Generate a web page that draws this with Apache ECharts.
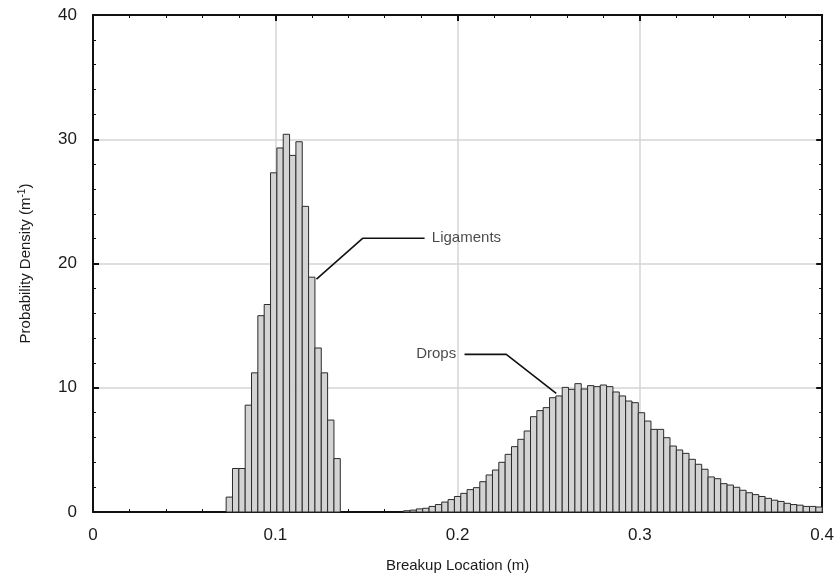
<!DOCTYPE html>
<html>
<head>
<meta charset="utf-8">
<script src="https://cdn.jsdelivr.net/npm/echarts@6/dist/echarts.min.js"></script>
<style>html,body{margin:0;padding:0;background:#fff}#c{width:837px;height:585px}</style>
</head>
<body>
<div id="c"></div>
<script>
// Histogram bins: 115 equal bins between 0 and 0.4 m
const binWidth = 0.4 / 115;
const ligamentFirstBin = 21;
const ligamentValues = [1.2, 3.5, 3.5, 8.6, 11.2, 15.8, 16.7, 27.3, 29.3, 30.4, 28.7, 29.8, 24.6, 18.9, 13.2, 11.2, 7.4, 4.3];
const dropsFirstBin = 49;
const dropsValues = [
  0.1, 0.15, 0.25, 0.3, 0.45, 0.6, 0.8, 1.0, 1.25, 1.5,
  1.8, 1.96, 2.44, 2.98, 3.38, 4.0, 4.64, 5.26, 5.85, 6.52,
  7.67, 8.16, 8.4, 9.2, 9.34, 10.03, 9.87, 10.33, 9.9, 10.17,
  10.09, 10.22, 10.09, 9.66, 9.34, 8.93, 8.8, 7.99, 7.32, 6.65,
  6.65, 5.98, 5.31, 4.99, 4.72, 4.24, 3.84, 3.44, 2.82, 2.68,
  2.28, 2.17, 1.99,
  1.75, 1.55, 1.4, 1.25, 1.1, 0.95, 0.85, 0.7, 0.6, 0.55, 0.45, 0.45, 0.4
];
const xTicks = [0, 0.1, 0.2, 0.3, 0.4];
const yTicks = [0, 10, 20, 30, 40];
// annotation leaders (data coordinates)
const ligamentLeader = [[0.1226, 18.75], [0.1479, 22.03], [0.1819, 22.03]];
const ligamentLabelAt = [0.1856, 22.03];
const dropsLeader = [[0.2038, 12.69], [0.2267, 12.69], [0.2541, 9.55]];
const dropsLabelAt = [0.1995, 12.69];

function binsToData(first, vals) {
  return vals.map((v, i) => [(first + i) * binWidth, (first + i + 1) * binWidth, v]);
}
const barData = binsToData(ligamentFirstBin, ligamentValues).concat(binsToData(dropsFirstBin, dropsValues));

const FONT = '"Liberation Sans", Arial, sans-serif';
const TXT = '#1a1a1a';
const chart = echarts.init(document.getElementById('c'), null, {renderer: 'canvas'});

const axisCommon = {
  axisLine: {show: true, onZero: false, lineStyle: {color: '#111', width: 2}},
  axisTick: {show: true, inside: true, length: 6, lineStyle: {color: '#111', width: 2}},
  minorTick: {show: true, splitNumber: 5, length: 3, lineStyle: {color: '#111', width: 1}},
};

chart.setOption({
  animation: false,
  backgroundColor: '#fff',
  grid: {left: 93, right: 14, top: 15, bottom: 73, containLabel: false},
  xAxis: [
    Object.assign({
      type: 'value', min: 0, max: 0.4, interval: 0.1, position: 'bottom',
      name: 'Breakup Location (m)', nameLocation: 'middle', nameGap: 46,
      nameTextStyle: {fontFamily: FONT, fontSize: 15, color: TXT},
      axisLabel: {margin: 15, fontFamily: FONT, fontSize: 17, color: TXT,
        formatter: v => { const t = xTicks.find(k => Math.abs(k - v) < 1e-9); return t === undefined ? '' : String(t); }},
      splitLine: {show: true, lineStyle: {color: '#d4d4d4', width: 1.5}}
    }, axisCommon),
    Object.assign({
      type: 'value', min: 0, max: 0.4, interval: 0.1, position: 'top',
      axisLabel: {show: false}, splitLine: {show: false}
    }, axisCommon)
  ],
  yAxis: [
    Object.assign({
      type: 'value', min: 0, max: 40, interval: 10, position: 'left',
      name: '{a|Probability Density (m}{s|-1}{a|)}', nameLocation: 'middle', nameGap: 58,
      nameRotate: 90,
      nameTextStyle: {fontFamily: FONT, fontSize: 15, color: TXT,
        rich: {a: {fontFamily: FONT, fontSize: 15, color: TXT},
               s: {fontFamily: FONT, fontSize: 10, color: TXT, verticalAlign: 'top', padding: [0, 0, 8, 0]}}},
      axisLabel: {margin: 16, fontFamily: FONT, fontSize: 17, color: TXT,
        formatter: v => { const t = yTicks.find(k => Math.abs(k - v) < 1e-9); return t === undefined ? '' : String(t); }},
      splitLine: {show: true, lineStyle: {color: '#d4d4d4', width: 1.5}}
    }, axisCommon),
    Object.assign({
      type: 'value', min: 0, max: 40, interval: 10, position: 'right',
      axisLabel: {show: false}, splitLine: {show: false}
    }, axisCommon)
  ],
  series: [
    {
      type: 'custom',
      xAxisIndex: 0, yAxisIndex: 0,
      data: barData,
      encode: {x: [0, 1], y: 2},
      renderItem: function (params, api) {
        const p0 = api.coord([api.value(0), api.value(2)]);
        const p1 = api.coord([api.value(1), 0]);
        return {
          type: 'rect',
          shape: {x: p0[0], y: p0[1], width: p1[0] - p0[0], height: p1[1] - p0[1]},
          style: {fill: '#d3d3d3', stroke: '#2b2b2b', lineWidth: 1}
        };
      },
      z: 3
    },
    {
      type: 'line', data: ligamentLeader, symbol: 'none', silent: true,
      lineStyle: {color: '#111', width: 1.6}, z: 5
    },
    {
      type: 'line', data: dropsLeader, symbol: 'none', silent: true,
      lineStyle: {color: '#111', width: 1.6}, z: 5
    },
    {
      type: 'scatter', symbolSize: 1, itemStyle: {color: 'rgba(0,0,0,0)'}, silent: true, z: 6,
      data: [
        {value: ligamentLabelAt, label: {show: true, position: 'right', distance: 0, formatter: 'Ligaments'}},
        {value: dropsLabelAt, label: {show: true, position: 'left', distance: 0, formatter: 'Drops'}}
      ],
      label: {fontFamily: FONT, fontSize: 15, color: TXT}
    }
  ]
});
</script>
</body>
</html>
